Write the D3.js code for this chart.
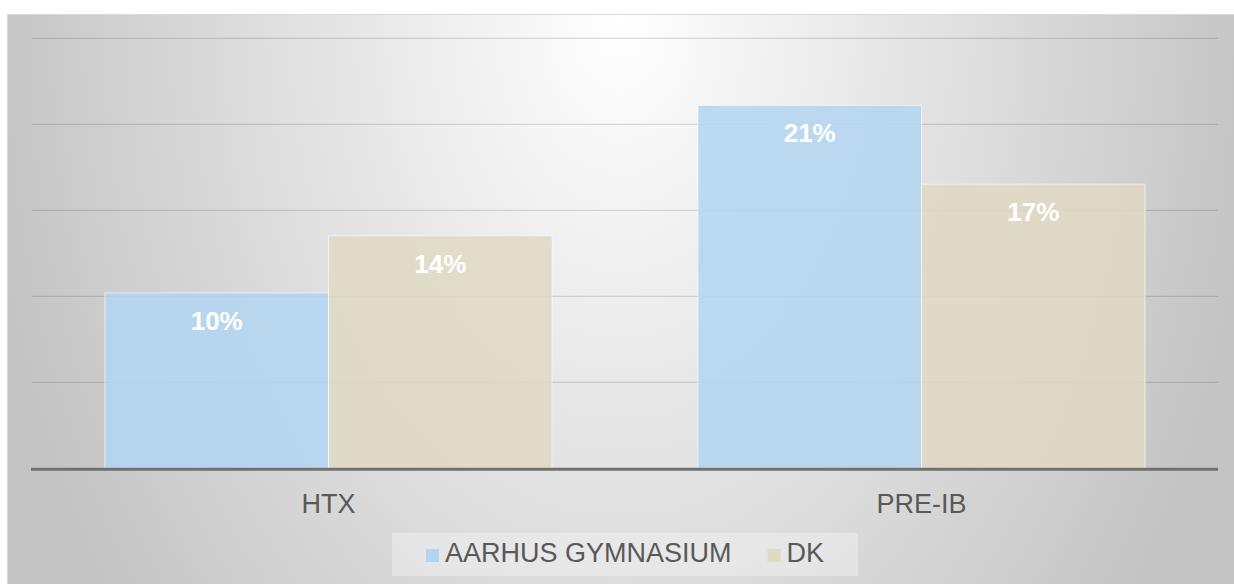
<!DOCTYPE html>
<html>
<head>
<meta charset="utf-8">
<script src="https://cdn.jsdelivr.net/npm/d3@7.9.0/dist/d3.min.js"></script>
<style>
  html, body { margin: 0; padding: 0; background: #ffffff; }
  svg { display: block; font-family: "Liberation Sans", Arial, sans-serif; }
</style>
</head>
<body>
<svg id="chart" width="1234" height="584"></svg>
<script>
// Chart data
const categories = ["HTX", "PRE-IB"];
const seriesNames = ["AARHUS GYMNASIUM", "DK"];
const aarhusValues = [0.102, 0.211];
const dkValues = [0.1352, 0.1652];
const yTicks = [0, 0.05, 0.10, 0.15, 0.20, 0.25];

const seriesColors = ["#b4d5f1", "#dfdac4"];
const allValues = [aarhusValues, dkValues];

const svg = d3.select("#chart");
const defs = svg.append("defs");

// Background gradient: white at top centre, grey towards the sides
let grad = defs.append("radialGradient")
    .attr("id", "bg")
    .attr("gradientUnits", "userSpaceOnUse")
    .attr("cx", 620).attr("cy", 20).attr("r", 640)
    .attr("gradientTransform", "translate(620,20) scale(1,1.5) translate(-620,-20)");
grad.append("stop").attr("offset", "0%").attr("stop-color", "#ffffff");
grad.append("stop").attr("offset", "100%").attr("stop-color", "#c4c4c4");

svg.append("rect")
    .attr("x", 7.5).attr("y", 14.5)
    .attr("width", 1240).attr("height", 590)
    .attr("fill", "url(#bg)")
    .attr("stroke", "#d9d9d9")
    .attr("stroke-width", 1);

// Scales
const y = d3.scaleLinear().domain([0, 0.25]).range([468.3, 38.3]);
const x0 = d3.scaleBand()
    .domain(categories)
    .range([32, 1218])
    .paddingInner(0.246)
    .paddingOuter(0.123);
const x1 = d3.scaleBand()
    .domain(seriesNames)
    .range([0, x0.bandwidth()])
    .padding(0);

// Gridlines
svg.append("g")
    .selectAll("line")
    .data(yTicks.filter(d => d > 0))
    .enter()
    .append("line")
    .attr("x1", 32).attr("x2", 1218)
    .attr("y1", d => y(d)).attr("y2", d => y(d))
    .attr("stroke", "rgba(0,0,0,0.13)")
    .attr("stroke-width", 1.3);

// Bars
const barData = [];
categories.forEach((c, i) => {
    seriesNames.forEach((s, j) => {
        barData.push({ category: c, series: s, value: allValues[j][i], color: seriesColors[j] });
    });
});

svg.append("g")
    .selectAll("rect")
    .data(barData)
    .enter()
    .append("rect")
    .attr("x", d => x0(d.category) + x1(d.series))
    .attr("y", d => y(d.value))
    .attr("width", x1.bandwidth())
    .attr("height", d => y(0) - y(d.value))
    .attr("fill", d => d.color)
    .attr("fill-opacity", 0.88)
    .attr("stroke", "rgba(255,255,255,0.6)")
    .attr("stroke-width", 1);

// Data labels
const pct = d3.format(".0%");
svg.append("g")
    .selectAll("text")
    .data(barData)
    .enter()
    .append("text")
    .attr("x", d => x0(d.category) + x1(d.series) + x1.bandwidth() / 2)
    .attr("y", d => y(d.value) + 37)
    .attr("text-anchor", "middle")
    .attr("fill", "#ffffff")
    .attr("font-weight", "bold")
    .attr("font-size", 26)
    .text(d => pct(d.value));

// Baseline (0%)
svg.append("line")
    .attr("x1", 31).attr("x2", 1218)
    .attr("y1", y(0) + 1).attr("y2", y(0) + 1)
    .attr("stroke", "#707070")
    .attr("stroke-width", 3);

// Category axis labels
const xAxis = d3.axisBottom(x0).tickSize(0).tickPadding(0);
const xg = svg.append("g").attr("transform", "translate(0,0)").call(xAxis);
xg.select(".domain").remove();
xg.selectAll("text")
    .attr("y", 513)
    .attr("dy", null)
    .attr("font-family", "\"Liberation Sans\", Arial, sans-serif")
    .attr("font-size", 27)
    .attr("fill", "#595959");

// Legend
const legend = svg.append("g");
const legendBox = legend.append("rect")
    .attr("fill", "rgba(245,245,245,0.45)");
let lx = 0;
const items = legend.selectAll("g.item")
    .data(seriesNames)
    .enter()
    .append("g")
    .attr("class", "item");
items.append("rect")
    .attr("y", 549)
    .attr("width", 13).attr("height", 13)
    .attr("fill", (d, i) => seriesColors[i]);
items.append("text")
    .attr("y", 562)
    .attr("font-size", 27)
    .attr("fill", "#595959")
    .text(d => d);
items.each(function () {
    const g = d3.select(this);
    const w = g.select("text").node().getComputedTextLength();
    g.select("rect").attr("x", lx);
    g.select("text").attr("x", lx + 19);
    lx += 19 + w + 36;
});
const legendWidth = lx - 36;
const legendLeft = 625 - legendWidth / 2;
items.attr("transform", `translate(${legendLeft},0)`);
legendBox
    .attr("x", legendLeft - 34)
    .attr("y", 533)
    .attr("width", legendWidth + 68)
    .attr("height", 43);
</script>
</body>
</html>
